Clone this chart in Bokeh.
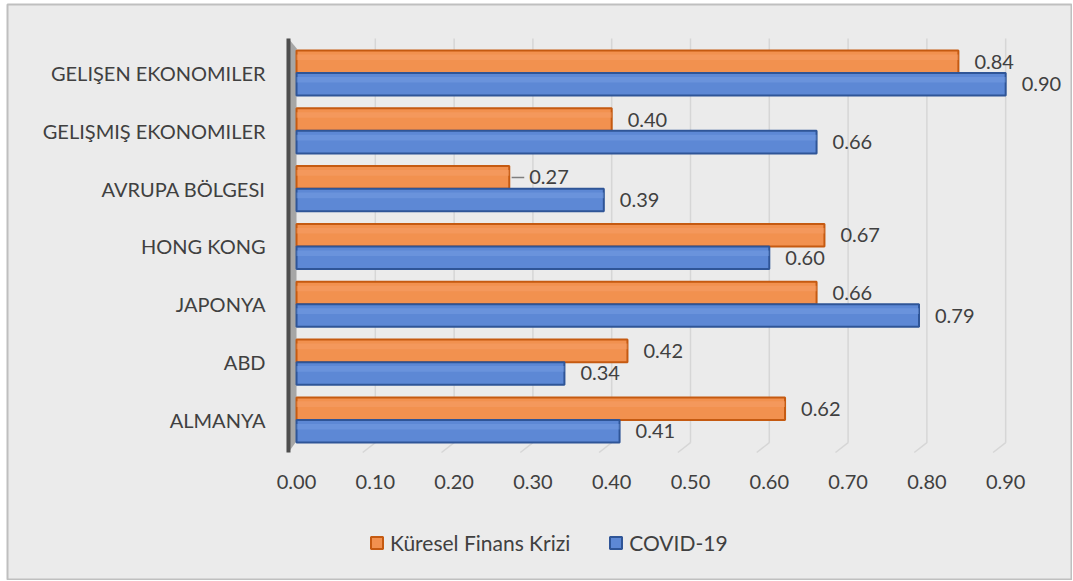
from bokeh.plotting import figure
from bokeh.models import Range1d, ColumnDataSource, Legend, LegendItem
from bokeh.embed import file_html
from bokeh.resources import INLINE
from bokeh.core.properties import value

categories = ["ALMANYA", "ABD", "JAPONYA", "HONG KONG", "AVRUPA BÖLGESI",
              "GELIŞMIŞ EKONOMILER", "GELIŞEN EKONOMILER"]
kfk = [0.62, 0.42, 0.66, 0.67, 0.27, 0.40, 0.84]
covid = [0.41, 0.34, 0.79, 0.60, 0.39, 0.66, 0.90]
x_ticks = [0.0, 0.1, 0.2, 0.3, 0.4, 0.5, 0.6, 0.7, 0.8, 0.9]
series_names = ["Küresel Finans Krizi", "COVID-19"]

FONT = "Lato"
TXT = "#404040"
BG = "#EBEBEB"
pos = list(range(len(categories)))
dz = 0.195
bh = 0.39
Y_TOP = 6.596
Y_FLOOR = -0.562
Y_BACK = Y_FLOOR + 0.17
Y_TICKLAB = -1.081
WALL_X = -0.0102
DEPTH_X = 0.016

p = figure(width=1072, height=580, output_backend="svg", toolbar_location=None,
           x_range=Range1d(-0.3668, 0.9848), y_range=Range1d(-2.7585, 7.1845),
           x_axis_location=None, y_axis_location=None,
           min_border_left=7, min_border_right=0, min_border_top=4, min_border_bottom=1)
p.background_fill_color = BG
p.border_fill_color = "white"
p.outline_line_color = "#BFBFBF"
p.outline_line_width = 2
p.xgrid.grid_line_color = None
p.ygrid.grid_line_color = None

# back-wall gridlines and floor diagonals
n = len(x_ticks) - 1
p.segment(x0=x_ticks[1:], x1=x_ticks[1:], y0=[Y_BACK] * n, y1=[Y_TOP] * n,
          line_color="#D6D6D6", line_width=1.5)
p.segment(x0=x_ticks[1:], x1=[t - DEPTH_X for t in x_ticks[1:]], y0=[Y_BACK] * n, y1=[Y_FLOOR] * n,
          line_color="#D6D6D6", line_width=1.5)

# side wall
p.patch(x=[WALL_X, 0.0, 0.0, WALL_X], y=[Y_TOP, Y_TOP - 0.17, Y_FLOOR + 0.2, Y_FLOOR],
        fill_color="#A6A6A6", line_color=None)
p.segment(x0=[WALL_X], x1=[WALL_X], y0=[Y_FLOOR], y1=[Y_TOP], line_color="#4D4D4D", line_width=4)

src_k = ColumnDataSource(dict(y=[v + dz for v in pos], right=kfk,
                              lab=["%.2f" % v for v in kfk],
                              off=[20 if v < 0.3 else 16 for v in kfk]))
src_c = ColumnDataSource(dict(y=[v - dz for v in pos], right=covid,
                              lab=["%.2f" % v for v in covid],
                              off=[16] * len(covid)))

rk = p.hbar(y="y", right="right", left=0, height=bh, source=src_k,
            fill_color="#F2914F", line_color="#C55A11", line_width=2)
rc = p.hbar(y="y", right="right", left=0, height=bh, source=src_c,
            fill_color="#5D88D5", line_color="#2F5597", line_width=2)
# lighter highlight strip near top of bars
p.hbar(y=[v + dz + bh * 0.2 for v in pos], right=kfk, left=0, height=bh * 0.25,
       fill_color="#F6A06A", fill_alpha=0.5, line_color=None)
p.hbar(y=[v - dz + bh * 0.2 for v in pos], right=covid, left=0, height=bh * 0.25,
       fill_color="#7BA1E4", fill_alpha=0.45, line_color=None)

# leader for small label
p.segment(x0=[kfk[4] + 0.003], x1=[kfk[4] + 0.019], y0=[pos[4] + dz], y1=[pos[4] + dz],
          line_color="#7F7F7F", line_width=1.5)

for src in (src_k, src_c):
    p.text(x="right", y="y", text="lab", source=src, x_offset="off",
           text_baseline="middle", text_align="left", text_color=TXT,
           text_font=value(FONT), text_font_size="20px")

# category labels
p.text(x=[0.0] * len(pos), y=pos, text=categories, x_offset=-31,
       text_baseline="middle", text_align="right", text_color=TXT,
       text_font=value(FONT), text_font_size="20px")

# x tick labels
p.text(x=x_ticks, y=[Y_TICKLAB] * len(x_ticks), text=["%.2f" % t for t in x_ticks],
       text_baseline="middle", text_align="center", text_color=TXT,
       text_font=value(FONT), text_font_size="20px")

legend = Legend(items=[LegendItem(label=series_names[0], renderers=[rk]),
                       LegendItem(label=series_names[1], renderers=[rc])],
                orientation="horizontal", location=(362, 24))
legend.background_fill_alpha = 0
legend.border_line_color = None
legend.label_text_font = FONT
legend.label_text_font_size = "21px"
legend.label_text_color = TXT
legend.glyph_width = 15
legend.glyph_height = 15
legend.spacing = 38
legend.label_standoff = 6
p.add_layout(legend)

open("out.html", "w").write(file_html(p, INLINE))
